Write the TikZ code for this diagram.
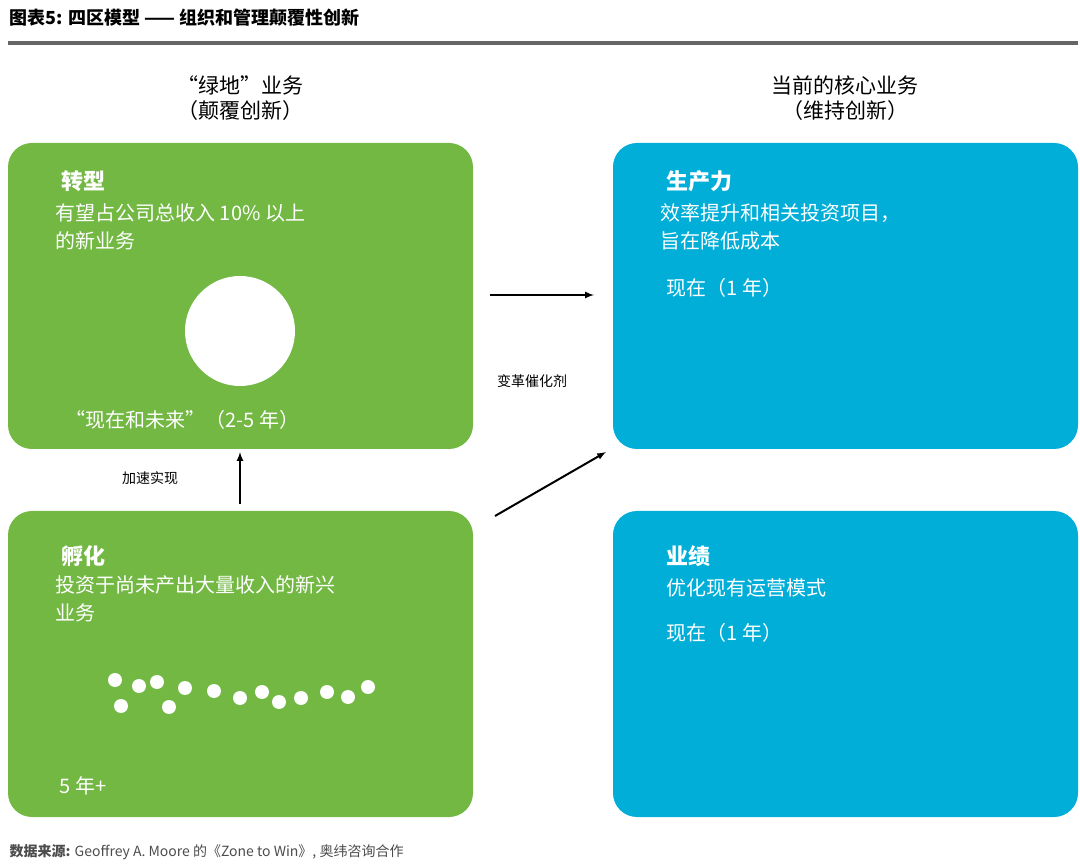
\documentclass[tikz,border=0pt]{standalone}
\usepackage{fontspec}
\setmainfont{Noto Sans CJK SC}
\begin{document}
\begin{tikzpicture}[x=1pt,y=-1pt,
  gbox/.style={fill=grn,rounded corners=24pt,draw=none},
  bbox/.style={fill=blu,rounded corners=24pt,draw=none},
  ttl/.style={anchor=west,font=\fontsize{22}{24}\selectfont\bfseries,text=white},
  txt/.style={anchor=north west,font=\fontsize{20}{28}\selectfont,text=white,align=left},
  hd/.style={font=\fontsize{21}{25}\selectfont,align=center},
  arr/.style={-latex,line width=2pt,black},
  lab/.style={font=\fontsize{14}{16}\selectfont},
  dot/.style={circle,fill=white,minimum size=14pt,inner sep=0pt}]
\definecolor{grn}{HTML}{72B843}
\definecolor{blu}{HTML}{00AED8}
\useasboundingbox (0,0) rectangle (1080,866);
\node[anchor=west,font=\fontsize{18}{20}\selectfont\bfseries] (title) at (6,18) {图表5: 四区模型 —— 组织和管理颠覆性创新};
\draw[line width=4pt,gray!80!black] (8,43) -- (1078,43);
\node[hd] (h1) at (240,98) {“绿地”业务\\（颠覆创新）};
\node[hd] (h2) at (845,98) {当前的核心业务\\（维持创新）};
\node[gbox,minimum width=465pt,minimum height=306pt] (g1) at (240.5,296) {};
\node[gbox,minimum width=465pt,minimum height=306pt] (g2) at (240.5,664) {};
\node[bbox,minimum width=465pt,minimum height=306pt] (b1) at (845.5,296) {};
\node[bbox,minimum width=465pt,minimum height=306pt] (b2) at (845.5,664) {};
\node[ttl] (t1) at (58,181) {转型};
\node[txt] (d1) at (52,200) {有望占公司总收入 10\% 以上\\的新业务};
\node[circle,fill=white,minimum size=110pt] (c1) at (240,331) {};
\node[anchor=west,font=\fontsize{20}{24}\selectfont,text=white] (n1) at (62,420) {“现在和未来”（2-5 年）};
\node[ttl] (t2) at (58,556) {孵化};
\node[txt] (d2) at (52,572) {投资于尚未产出大量收入的新兴\\业务};
\node[anchor=west,font=\fontsize{20}{24}\selectfont,text=white] (n2) at (56,786) {5 年+};
\foreach \i/\x/\y in {1/115/680,2/121/706,3/139/686,4/157/682,5/169/707,6/185/688,7/214/691,8/240/698,9/262/692,10/279/702,11/301/698,12/327/692,13/348/697,14/368/687}
  \node[dot] (dt\i) at (\x,\y) {};
\node[ttl] (t3) at (663,181) {生产力};
\node[txt] (d3) at (657,200) {效率提升和相关投资项目，\\旨在降低成本};
\node[anchor=west,font=\fontsize{20}{24}\selectfont,text=white] (n3) at (663,288) {现在（1 年）};
\node[ttl] (t4) at (663,556) {业绩};
\node[anchor=west,font=\fontsize{20}{24}\selectfont,text=white] (d4) at (663,588) {优化现有运营模式};
\node[anchor=west,font=\fontsize{20}{24}\selectfont,text=white] (n4) at (663,633) {现在（1 年）};
\coordinate (a1s) at (490,295); \coordinate (a1e) at (594,295);
\coordinate (a2s) at (495,516); \coordinate (a2e) at (606,452);
\coordinate (a3s) at (240,504); \coordinate (a3e) at (240,452);
\draw[arr] (a1s) -- (a1e);
\draw[arr] (a2s) -- (a2e);
\draw[arr] (a3s) -- (a3e);
\node[lab] (l1) at (532,381) {变革催化剂};
\node[lab] (l2) at (150,478) {加速实现};
\node[anchor=west,font=\fontsize{14}{16}\selectfont,text=black!70] (src) at (6,852) {\textbf{数据来源:} Geoffrey A. Moore 的《Zone to Win》, 奥纬咨询合作};
\end{tikzpicture}
\end{document}
